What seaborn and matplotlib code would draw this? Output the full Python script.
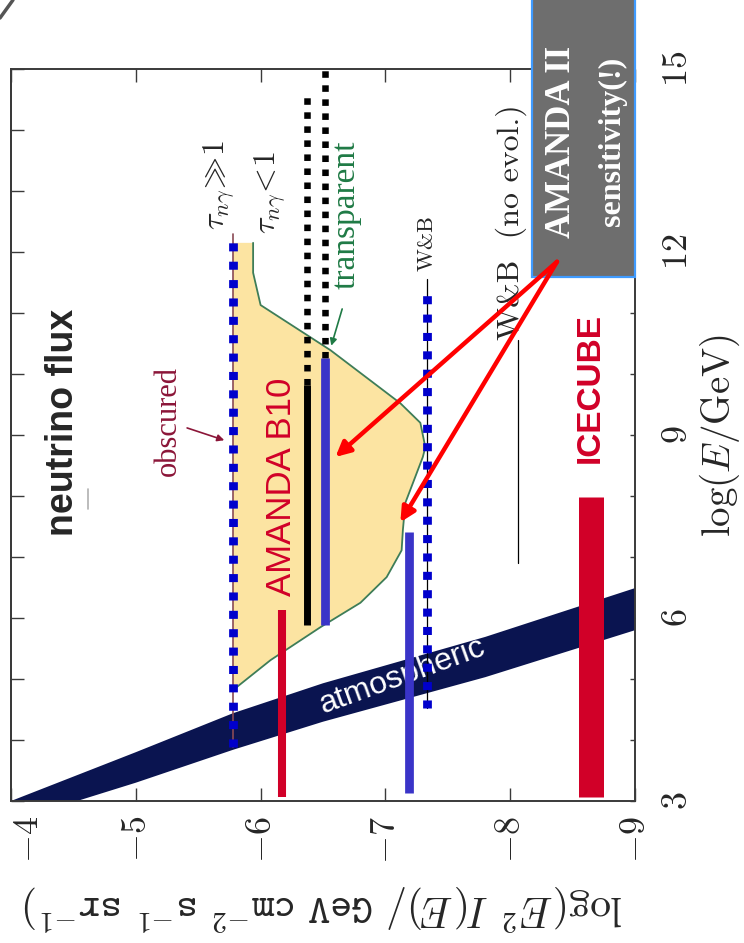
import matplotlib
matplotlib.use("Agg")
import matplotlib.pyplot as plt
import seaborn as sns
import numpy as np
from matplotlib.patches import Rectangle
from matplotlib.lines import Line2D

# ---------------- data ----------------
flux_ticks = [-4, -5, -6, -7, -8, -9]
flux_labels = [r"$-4$", r"$-5$", r"$-6$", r"$-7$", r"$-8$", r"$-9$"]
energy_ticks = [3, 6, 9, 12, 15]
energy_labels = [r"$3$", r"$6$", r"$9$", r"$12$", r"$15$"]
energy_minor = list(range(3, 16))

# atmospheric band (flux, logE)
atm_upper_flux = [-4.0, -5.0, -5.78, -6.5, -7.8, -9.0]
atm_upper_E = [3.0, 3.8, 4.44, 4.93, 5.69, 6.49]
atm_lower_flux = [-4.53, -5.0, -5.78, -6.5, -7.8, -9.0]
atm_lower_E = [3.0, 3.3, 3.84, 4.3, 5.03, 5.8]

# model region (yellow)
model_flux = [-5.78, -5.94, -5.94, -6.0, -6.56, -7.12, -7.28, -7.32, -7.30, -7.22,
              -7.16, -7.14, -7.13, -7.01, -6.80, -6.48, -6.08, -5.78]
model_E = [12.15, 12.15, 11.66, 11.13, 10.39, 9.52, 9.20, 8.80, 8.64, 8.21,
           7.89, 7.44, 7.11, 6.67, 6.25, 5.85, 5.31, 4.82]

# vertical limit segments: flux position, energy range
tau_thick_flux, tau_thick_E = -5.78, [3.89, 12.3]
wb_flux, wb_E = -7.33, [4.52, 11.43]
black1_flux, black1_dot_E, black1_solid_E = -6.37, [9.82, 14.57], [5.89, 9.82]
black2_flux, black2_dot_E = -6.52, [10.26, 15.0]
b10_blue_E = [5.89, 10.26]
amanda_red_flux, amanda_red_E = -6.17, [3.07, 6.13]
amanda_blue_flux, amanda_blue_E = -7.19, [3.13, 7.41]
icecube_flux, icecube_E = -8.645, [3.07, 7.98]
wb_noevol_flux, wb_noevol_E = -8.06, [6.9, 10.56]

# ---------------- style ----------------
sns.set_theme(style="white")
plt.rcParams["font.family"] = ["DejaVu Sans"]
plt.rcParams["mathtext.fontset"] = "cm"
plt.rcParams["axes.unicode_minus"] = True

RED = "#d10028"
NAVY = "#0a1450"
YELLOW = "#fce4a2"
GREEN = "#3e7d58"
BLUE_DOT = "#0000cc"
BLUE_SOLID = "#3a34c8"
AX = "#3a3a3a"

fig = plt.figure(figsize=(7.44, 9.43), dpi=100)
ax = fig.add_axes([11 / 744, 1 - 801 / 943, 624 / 744, 732 / 943])
ax.set_facecolor("white")


def seg(x, e, **kw):
    sns.lineplot(x=[x, x], y=list(e), orient="y", estimator=None, sort=False,
                 ax=ax, legend=False, **kw)


# yellow model region
ax.fill(model_flux, model_E, color=YELLOW, lw=0, zorder=1)
ax.plot(model_flux[1:], model_E[1:], color=GREEN, lw=1.3, zorder=1.5)

# atmospheric band
band_x = atm_upper_flux + atm_lower_flux[::-1]
band_y = atm_upper_E + atm_lower_E[::-1]
ax.fill(band_x, band_y, color=NAVY, lw=0, zorder=2)
ax.text(-7.14, 5.05, "atmospheric", rotation=20, color="white", fontsize=23,
        family="Liberation Sans", ha="center", va="center",
        rotation_mode="anchor", zorder=2.5)

# thin lines underneath dotted ones
seg(tau_thick_flux, tau_thick_E, color="#8a4a55", lw=1.2, zorder=3)
seg(wb_flux, [wb_E[0], wb_E[1] + 0.12], color="black", lw=0.9, zorder=3)

# dotted lines
ax.plot([tau_thick_flux] * 2, tau_thick_E, color=BLUE_DOT, lw=6.3,
        linestyle=(0, (0.92, 1.18)), dash_capstyle="butt", zorder=4)
ax.plot([wb_flux] * 2, wb_E, color=BLUE_DOT, lw=6.3,
        linestyle=(0, (0.92, 1.18)), dash_capstyle="butt", zorder=4)
ax.plot([black1_flux] * 2, black1_dot_E, color="black", lw=4.7,
        linestyle=(0, (1.0, 1.15)), dash_capstyle="butt", zorder=4)
ax.plot([black2_flux] * 2, black2_dot_E, color="black", lw=4.7,
        linestyle=(0, (1.0, 1.15)), dash_capstyle="butt", zorder=4)

# solid lines
seg(black1_flux, black1_solid_E, color="black", lw=5.0, solid_capstyle="butt", zorder=4)
seg(black2_flux, b10_blue_E, color=BLUE_SOLID, lw=6.3, solid_capstyle="butt", zorder=4)
seg(amanda_red_flux, amanda_red_E, color=RED, lw=5.8, solid_capstyle="butt", zorder=4)
seg(amanda_blue_flux, amanda_blue_E, color=BLUE_SOLID, lw=6.3, solid_capstyle="butt", zorder=4)
seg(icecube_flux, icecube_E, color=RED, lw=18, solid_capstyle="butt", zorder=4)
seg(wb_noevol_flux, wb_noevol_E, color="black", lw=0.9, zorder=4)

# small grey dash under label
ax.plot([-4.62, -4.62], [7.78, 8.12], color="#b0b0b0", lw=1.2, zorder=3)

# ---------------- texts ----------------
ax.text(-4.42, 9.2, "neutrino flux", rotation=90, ha="center", va="center",
        fontsize=27, fontweight="bold", family="Liberation Sans", zorder=6)
ax.text(-6.17, 8.15, "AMANDA B10", rotation=90, ha="center", va="center",
        fontsize=25, color=RED, family="Liberation Sans", zorder=6)
ax.text(-8.64, 9.77, "ICECUBE", rotation=90, ha="center", va="center",
        fontsize=24, fontweight="bold", color=RED, family="Liberation Sans",
        zorder=6)
ax.text(-5.26, 9.23, "obscured", rotation=90, ha="center", va="center",
        fontsize=22, color="#8b1538", family="Liberation Serif", zorder=6)
ax.text(-6.69, 12.61, "transparent", rotation=90, ha="center", va="center",
        fontsize=24, color="#1f7a45", family="Liberation Serif", zorder=6)
ax.text(-8.01, 12.49, "W&B  (no evol.)", rotation=90,
        ha="center", va="center", fontsize=23, family="cmr10", zorder=6)
ax.text(-7.33, 12.15, "W&B", rotation=90, ha="center",
        va="center", fontsize=16, family="cmr10", zorder=6)
ax.text(-5.67, 13.1, r"$\tau_{n\gamma}\!\gg\!1$", rotation=90, ha="center",
        va="center", fontsize=23, zorder=6)
ax.text(-6.075, 12.98, r"$\tau_{n\gamma}\!<\!1$", rotation=90, ha="center",
        va="center", fontsize=23, zorder=6)

# small annotation arrows
ax.annotate("", xy=(-5.73, 8.90), xytext=(-5.39, 9.13),
            arrowprops=dict(arrowstyle="-|>", color="#8b1538", lw=1.2,
                            mutation_scale=10), zorder=6)
ax.annotate("", xy=(-6.56, 10.42), xytext=(-6.66, 11.11),
            arrowprops=dict(arrowstyle="-|>", color="#1f7a45", lw=1.2,
                            mutation_scale=10), zorder=6)

# AMANDA II box
box = Rectangle((-9.0, 11.59), 0.825, 4.6, facecolor="#6e6e6e",
                edgecolor="#3f9bff", lw=1.6, clip_on=False, zorder=10)
ax.add_patch(box)
ax.text(-8.415, 13.80, "AMANDA II", rotation=90, ha="center", va="center",
        fontsize=25, fontweight="bold", color="white",
        family="Liberation Serif", clip_on=False, zorder=11)
ax.text(-8.82, 13.82, "sensitivity(!)", rotation=90, ha="center", va="center",
        fontsize=23, fontweight="bold", color="white",
        family="Liberation Serif", clip_on=False, zorder=11)

# red arrows
for tx, ty in [(-6.60, 8.64), (-7.12, 7.57)]:
    ax.annotate("", xy=(tx, ty), xytext=(-8.375, 11.84),
                arrowprops=dict(arrowstyle="-|>", color="#ff0000", lw=3.2,
                                mutation_scale=22, shrinkA=0, shrinkB=0),
                zorder=12, annotation_clip=False)

# ---------------- axes ----------------
ax.set_xlim(-4, -9)
ax.set_ylim(3, 15)

ax.set_xticks(flux_ticks)
ax.set_xticklabels(flux_labels, rotation=90, fontsize=26)
ax.tick_params(axis="x", which="major", direction="in", length=9.4, width=1.0,
               top=True, bottom=True, pad=11, color=AX)
ax.xaxis.get_majorticklabels()[0].set_horizontalalignment("left")

ax.yaxis.tick_right()
ax.set_yticks(energy_ticks)
ax.set_yticks(energy_minor, minor=True)
ax.set_yticklabels(energy_labels, rotation=90, va="center", fontsize=26)
ax.tick_params(axis="y", which="both", direction="in", length=3.6, width=1.0,
               left=False, right=True, pad=18, color=AX)

sec = ax.secondary_yaxis("left")
sec.set_yticks(energy_minor)
sec.yaxis.set_ticklabels([])
sec.tick_params(axis="y", direction="in", length=9.4, width=1.0, color=AX)
sec.spines["left"].set_color(AX)
sec.spines["left"].set_linewidth(1.4)

for s in ax.spines.values():
    s.set_color(AX)
    s.set_linewidth(1.4)
    s.set_visible(True)

ax.set_xlabel(r"$\log(E^2\ I(E)/\ \mathtt{GeV\ cm^{-2}\ s^{-1}\ sr^{-1}})$",
              rotation=180, fontsize=30, labelpad=12)
ax.yaxis.set_label_position("right")
ax.set_ylabel(r"$\log(E/\mathrm{GeV})$", rotation=90, fontsize=28, labelpad=3)

# slide border fragment in the top-left corner
fig.add_artist(Line2D([0, 13 / 744], [1 - 18 / 943, 1], transform=fig.transFigure,
                      color="#555555", lw=2.5))

fig.savefig("out.png", dpi=100)
